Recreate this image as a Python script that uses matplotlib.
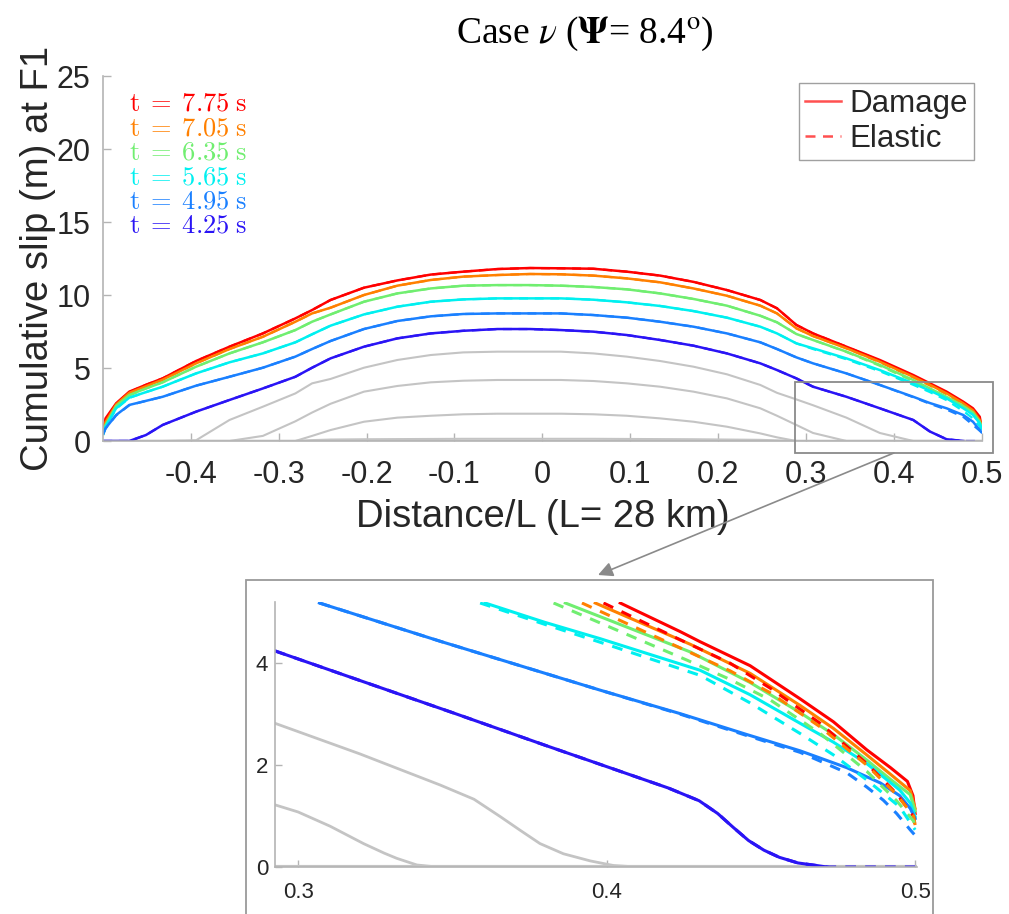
import matplotlib
matplotlib.use("Agg")
import matplotlib.pyplot as plt
from matplotlib.lines import Line2D
from matplotlib.patches import Rectangle
import numpy as np

plt.rcParams['font.family'] = ['Liberation Sans', 'DejaVu Sans']

# ---- main panel: distance along the fault (x/L) ----
x_main = [-0.4995, -0.497, -0.485, -0.47, -0.451, -0.432, -0.394, -0.356, -0.318,
          -0.281, -0.262, -0.241, -0.203, -0.165, -0.127, -0.09, -0.051, -0.014,
          0.021, 0.058, 0.096, 0.134, 0.172, 0.21, 0.248, 0.267, 0.289, 0.308,
          0.346, 0.384, 0.422, 0.441, 0.46, 0.479, 0.49, 0.4977, 0.4997]

times = ['7.75', '7.05', '6.35', '5.65', '4.95', '4.25']
colors = ['#ff0000', '#ff8000', '#70ee70', '#00f0f0', '#1a80ff', '#2a14f5']

# damage (solid) slip profiles
d775 = [0.8, 1.55, 2.58, 3.38, 3.85, 4.29, 5.48, 6.46, 7.37, 8.4, 8.97, 9.66, 10.5,
        11.0, 11.4, 11.6, 11.78, 11.85, 11.83, 11.8, 11.6, 11.33, 10.9, 10.34, 9.66,
        9.09, 7.95, 7.37, 6.46, 5.55, 4.52, 3.95, 3.38, 2.69, 2.24, 1.66, 0.98]
d705 = [0.6, 1.3, 2.5, 3.3, 3.75, 4.2, 5.32, 6.3, 7.14, 8.17, 8.74, 9.13, 10.0,
        10.64, 11.03, 11.26, 11.37, 11.44, 11.42, 11.33, 11.14, 10.87, 10.45, 9.95,
        9.27, 8.74, 7.72, 7.19, 6.35, 5.43, 4.4, 3.85, 3.26, 2.58, 2.1, 1.44, 1.1]
d635 = [0.5, 1.1, 2.4, 3.15, 3.6, 4.02, 5.09, 6.0, 6.76, 7.6, 8.17, 8.67, 9.54,
        10.11, 10.45, 10.64, 10.68, 10.68, 10.64, 10.55, 10.39, 10.11, 9.73, 9.27,
        8.58, 8.13, 7.33, 6.92, 6.12, 5.21, 4.18, 3.6, 3.03, 2.4, 1.95, 1.32, 1.0]
d565 = [0.5, 1.0, 2.24, 2.97, 3.35, 3.72, 4.63, 5.39, 6.0, 6.76, 7.31, 7.9, 8.67,
        9.2, 9.54, 9.7, 9.77, 9.77, 9.77, 9.68, 9.5, 9.25, 8.9, 8.45, 7.83, 7.37,
        6.69, 6.35, 5.66, 4.86, 3.95, 3.45, 2.92, 2.24, 1.8, 1.21, 0.9]
d495 = [0.5, 0.87, 1.78, 2.47, 2.75, 3.03, 3.79, 4.4, 5.02, 5.78, 6.3, 6.85, 7.67,
        8.22, 8.54, 8.7, 8.74, 8.74, 8.74, 8.63, 8.45, 8.17, 7.83, 7.37, 6.76, 6.3,
        5.73, 5.32, 4.63, 3.84, 3.03, 2.6, 2.24, 1.78, 1.32, 0.75, 0.6]
d425 = [0.0, 0.0, 0.0, 0.0, 0.41, 1.1, 2.01, 2.81, 3.6, 4.4, 5.02, 5.66, 6.46,
        7.03, 7.37, 7.55, 7.67, 7.67, 7.6, 7.49, 7.26, 6.92, 6.53, 6.0, 5.32, 4.86,
        4.29, 3.72, 3.03, 2.24, 1.44, 0.65, 0.12, 0.0, np.nan, np.nan, np.nan]

# elastic (dashed) slip profiles
e775 = [0.8, 1.4, 2.55, 3.35, 3.85, 4.29, 5.48, 6.46, 7.37, 8.4, 8.97, 9.66, 10.5,
        11.0, 11.4, 11.6, 11.78, 11.85, 11.83, 11.8, 11.6, 11.33, 10.9, 10.34, 9.66,
        9.09, 7.95, 7.37, 6.46, 5.5, 4.45, 3.9, 3.3, 2.55, 2.0, 1.3, 0.8]
e705 = [0.6, 1.25, 2.45, 3.28, 3.75, 4.2, 5.32, 6.3, 7.14, 8.17, 8.74, 9.13, 10.0,
        10.64, 11.03, 11.26, 11.37, 11.44, 11.42, 11.33, 11.14, 10.87, 10.45, 9.95,
        9.27, 8.74, 7.72, 7.19, 6.35, 5.4, 4.35, 3.8, 3.2, 2.5, 1.95, 1.3, 0.85]
e635 = [0.5, 1.05, 2.35, 3.12, 3.6, 4.02, 5.09, 6.0, 6.76, 7.6, 8.17, 8.67, 9.54,
        10.11, 10.45, 10.64, 10.68, 10.68, 10.64, 10.55, 10.39, 10.11, 9.73, 9.27,
        8.58, 8.13, 7.33, 6.92, 6.1, 5.15, 4.1, 3.55, 2.95, 2.3, 1.8, 1.2, 0.8]
e565 = [0.5, 0.95, 2.2, 2.95, 3.35, 3.72, 4.63, 5.39, 6.0, 6.76, 7.31, 7.9, 8.67,
        9.2, 9.54, 9.7, 9.77, 9.77, 9.77, 9.68, 9.5, 9.25, 8.9, 8.45, 7.83, 7.37,
        6.69, 6.3, 5.6, 4.78, 3.85, 3.35, 2.8, 2.05, 1.55, 1.0, 0.7]
e495 = [0.5, 0.85, 1.75, 2.45, 2.75, 3.03, 3.79, 4.4, 5.02, 5.78, 6.3, 6.85, 7.67,
        8.22, 8.54, 8.7, 8.74, 8.74, 8.74, 8.63, 8.45, 8.17, 7.83, 7.37, 6.76, 6.3,
        5.73, 5.32, 4.63, 3.84, 3.0, 2.55, 2.15, 1.65, 1.1, 0.7, 0.6]
e425 = [0.0, 0.0, 0.0, 0.0, 0.41, 1.1, 2.01, 2.81, 3.6, 4.4, 5.02, 5.66, 6.46,
        7.03, 7.37, 7.55, 7.67, 7.67, 7.6, 7.49, 7.26, 6.92, 6.53, 6.0, 5.32, 4.86,
        4.29, 3.72, 3.03, 2.24, 1.44, 0.65, 0.12, 0.0, 0.0, 0.0, 0.0]

# earlier times (grey)
g1 = [0, 0, 0, 0, 0, 0, 0.05, 1.44, 2.35, 3.26, 3.95, 4.25, 5.02, 5.55, 5.89, 6.07,
      6.12, 6.12, 6.12, 6.0, 5.78, 5.48, 5.09, 4.57, 3.84, 3.3, 2.85, 2.45, 1.6,
      0.55, 0, 0, 0, 0, 0, 0, 0]
g2 = [0, 0, 0, 0, 0, 0, 0, 0, 0.35, 1.35, 1.95, 2.55, 3.38, 3.77, 4.02, 4.13, 4.18,
      4.18, 4.18, 4.11, 3.95, 3.72, 3.38, 2.92, 2.24, 1.73, 1.1, 0.55, 0, 0, 0, 0,
      0, 0, 0, 0, 0]
g3 = [0, 0, 0, 0, 0, 0, 0, 0, 0, 0, 0.35, 0.75, 1.32, 1.6, 1.73, 1.83, 1.87, 1.87,
      1.87, 1.83, 1.73, 1.55, 1.32, 0.98, 0.52, 0.25, 0, 0, 0, 0, 0, 0, 0, 0, 0, 0, 0]
g4 = [0, 0, 0, 0, 0, 0, 0, 0, 0, 0, 0.06, 0.1, 0.12, 0.13, 0.14, 0.15, 0.15, 0.15,
      0.15, 0.15, 0.14, 0.13, 0.12, 0.1, 0.08, 0.04, 0, 0, 0, 0, 0, 0, 0, 0, 0, 0, 0]
g0_x = [-0.5, 0.5]
g0 = [0.0, 0.0]

# ---- zoomed panel (x, slip) pairs ----
z_d775 = [(0.4044, 5.18), (0.4238, 4.62), (0.4303, 4.42), (0.4465, 3.95), (0.4627, 3.3),
          (0.4735, 2.85), (0.4843, 2.3), (0.492, 1.95), (0.4975, 1.68), (0.4993, 1.4),
          (0.5, 1.05)]
z_d705 = [(0.3963, 5.18), (0.4271, 4.37), (0.4465, 3.8), (0.4627, 3.17), (0.4735, 2.72),
          (0.4843, 2.2), (0.492, 1.82), (0.4984, 1.5), (0.5, 1.15)]
z_d635 = [(0.3866, 5.18), (0.4271, 4.22), (0.4465, 3.62), (0.4627, 3.03), (0.4735, 2.6),
          (0.4843, 2.1), (0.492, 1.72), (0.4984, 1.42), (0.5, 1.1)]
z_d565 = [(0.3606, 5.18), (0.38, 4.8), (0.3979, 4.48), (0.4303, 3.86), (0.4465, 3.38),
          (0.4627, 2.82), (0.4735, 2.45), (0.4843, 2.03), (0.495, 1.51), (0.4985, 1.25),
          (0.5, 0.99)]
z_d495 = [(0.3069, 5.18), (0.346, 4.43), (0.3979, 3.47), (0.4238, 3.01), (0.4454, 2.6),
          (0.4627, 2.28), (0.4778, 1.95), (0.4887, 1.65), (0.495, 1.4), (0.4984, 1.15),
          (0.5, 0.95)]
z_d425 = [(0.2925, 4.24), (0.32, 3.66), (0.35, 3.03), (0.38, 2.39), (0.40, 1.97),
          (0.42, 1.55), (0.43, 1.3), (0.436, 1.05), (0.441, 0.78), (0.446, 0.52),
          (0.451, 0.33), (0.456, 0.19), (0.462, 0.08), (0.468, 0.03), (0.4714, 0.0)]

z_e775 = [(0.399, 5.18), (0.4238, 4.46), (0.44, 4.0), (0.453, 3.51), (0.4692, 2.82),
          (0.4843, 2.03), (0.494, 1.44), (0.4995, 0.99), (0.5, 0.8)]
z_e705 = [(0.392, 5.18), (0.4227, 4.33), (0.44, 3.85), (0.453, 3.42), (0.4692, 2.75),
          (0.4843, 2.0), (0.494, 1.42), (0.4995, 1.0), (0.5, 0.82)]
z_e635 = [(0.3828, 5.18), (0.426, 4.06), (0.44, 3.68), (0.453, 3.28), (0.4692, 2.62),
          (0.4843, 1.88), (0.494, 1.3), (0.4995, 0.9), (0.5, 0.75)]
z_e565 = [(0.359, 5.18), (0.38, 4.76), (0.3979, 4.41), (0.4303, 3.76), (0.4465, 3.22),
          (0.4627, 2.62), (0.4735, 2.2), (0.4843, 1.71), (0.495, 1.18), (0.5, 0.73)]
z_e495 = [(0.3069, 5.18), (0.346, 4.43), (0.3979, 3.47), (0.4238, 3.0), (0.4454, 2.58),
          (0.4627, 2.25), (0.4778, 1.85), (0.4843, 1.57), (0.4897, 1.31), (0.494, 1.05),
          (0.4984, 0.73), (0.5, 0.62)]
z_e425 = [(0.2925, 4.24), (0.32, 3.66), (0.35, 3.03), (0.38, 2.39), (0.40, 1.97),
          (0.42, 1.55), (0.43, 1.3), (0.436, 1.05), (0.441, 0.78), (0.446, 0.52),
          (0.451, 0.33), (0.456, 0.19), (0.462, 0.08), (0.468, 0.03), (0.4714, 0.0),
          (0.5, 0.0)]

z_g1 = [(0.2925, 2.82), (0.32, 2.22), (0.346, 1.61), (0.357, 1.33), (0.3655, 0.99),
        (0.372, 0.72), (0.3784, 0.46), (0.386, 0.26), (0.3947, 0.12), (0.4022, 0.03),
        (0.41, 0.0)]
z_g2 = [(0.2925, 1.22), (0.3, 1.08), (0.3104, 0.8), (0.3212, 0.46), (0.328, 0.27),
        (0.332, 0.17), (0.3385, 0.04), (0.345, 0.0)]
z_g0 = [(0.2925, 0.0), (0.5, 0.0)]

damage = [d775, d705, d635, d565, d495, d425]
elastic = [e775, e705, e635, e565, e495, e425]
z_damage = [z_d775, z_d705, z_d635, z_d565, z_d495, z_d425]
z_elastic = [z_e775, z_e705, z_e635, z_e565, z_e495, z_e425]

grey = '#c4c4c4'
axcol = '#b4b4b4'
txtcol = '#262626'

fig = plt.figure(figsize=(10.09, 9.14), dpi=100)
ax = fig.add_axes([0.102, 0.5175, 0.871, 0.3993])

# grey early-time curves
for g in [g1, g2, g3, g4]:
    ax.plot(x_main, g, color=grey, lw=1.5)
ax.plot(g0_x, g0, color=grey, lw=2.5)

for ys, c in zip(elastic, colors):
    ax.plot(x_main, ys, color=c, lw=1.6, ls=(0, (4, 3)))
for ys, c in zip(damage, colors):
    ax.plot(x_main, ys, color=c, lw=1.8)

ax.set_xlim(-0.5, 0.5)
ax.set_ylim(0, 25)
ax.set_xticks([-0.4, -0.3, -0.2, -0.1, 0, 0.1, 0.2, 0.3, 0.4, 0.5])
ax.set_xticklabels(['-0.4', '-0.3', '-0.2', '-0.1', '0', '0.1', '0.2', '0.3', '0.4', '0.5'])
ax.set_yticks([0, 5, 10, 15, 20, 25])
for s in ['top', 'right']:
    ax.spines[s].set_visible(False)
for s in ['left', 'bottom']:
    ax.spines[s].set_color(axcol)
    ax.spines[s].set_linewidth(1.2)
ax.tick_params(direction='in', length=6, width=1, colors=axcol, labelcolor=txtcol,
               labelsize=22)
ax.tick_params(axis='x', pad=14)
ax.tick_params(axis='y', pad=9)
ax.set_xlabel('Distance/L (L= 28 km)', fontsize=27.5, color=txtcol, labelpad=6)
ax.set_ylabel('Cumulative slip (m) at F1', fontsize=27.5, color=txtcol, labelpad=0)

# time labels
base_y = [0.905, 0.838, 0.771, 0.704, 0.637, 0.570]
for t, c, yy in zip(times, colors, base_y):
    ax.text(0.03, yy, r'$\mathrm{t}\;=\;%s\;\mathrm{s}$' % t, transform=ax.transAxes,
            color=c, fontsize=19, math_fontfamily='cm', ha='left', va='baseline')

# legend
handles = [Line2D([], [], color='#ff5050', lw=1.8),
           Line2D([], [], color='#ff5050', lw=1.8, ls=(0, (4, 3)))]
leg = ax.legend(handles, ['Damage', 'Elastic'], loc='upper right',
                bbox_to_anchor=(0.991, 0.982), borderaxespad=0, fontsize=22.5,
                handlelength=1.15, handletextpad=0.25, labelspacing=0.15,
                borderpad=0.2, fancybox=False, framealpha=1)
leg.get_frame().set_edgecolor('#a0a0a0')
leg.get_frame().set_linewidth(1.0)
for txt in leg.get_texts():
    txt.set_color(txtcol)

# zoom box on main panel and pointer to inset
ax.add_patch(Rectangle((0.2875, -0.82), 0.225, 4.86, fill=False, edgecolor='#8a8a8a',
                       lw=1.3, clip_on=False, zorder=5))
ax.annotate('', xy=(0.5927, 0.3709), xycoords='figure fraction', xytext=(0.4, -0.82),
            textcoords='data', annotation_clip=False,
            arrowprops=dict(arrowstyle='-|>', color='#8a8a8a', lw=1.2,
                            mutation_scale=22, shrinkA=0, shrinkB=0))

# title
fig.text(0.58, 0.963, r'Case $\nu$ ($\mathbf{\Psi}$= 8.4$^{\mathrm{o}}$)',
         fontsize=27, family='Liberation Serif', math_fontfamily='stix',
         ha='center', va='center', color='black')

# outer frame of the inset
fig.add_artist(Rectangle((0.2438, -0.05), 0.6809, 0.4154, transform=fig.transFigure,
                         fill=False, edgecolor='#9a9a9a', lw=1.3))

# ---- inset ----
axz = fig.add_axes([0.2725, 0.0514, 0.636, 0.290])
for zz in [z_g1, z_g2]:
    xx, yy = zip(*zz)
    axz.plot(xx, yy, color=grey, lw=2)
xx, yy = zip(*z_g0)
axz.plot(xx, yy, color=grey, lw=3)
for zz, c in zip(z_damage, colors):
    xx, yy = zip(*zz)
    axz.plot(xx, yy, color=c, lw=2.2)
for zz, c in zip(z_elastic, colors):
    xx, yy = zip(*zz)
    axz.plot(xx, yy, color=c, lw=2.2, ls=(0, (3.5, 3)))

axz.set_xlim(0.2925, 0.5005)
axz.set_ylim(0, 5.2)
axz.set_xticks([0.3, 0.4, 0.5])
axz.set_xticklabels(['0.3', '0.4', '0.5'])
axz.set_yticks([0, 2, 4])
for s in ['top', 'right']:
    axz.spines[s].set_visible(False)
for s in ['left', 'bottom']:
    axz.spines[s].set_color(axcol)
    axz.spines[s].set_linewidth(1.2)
axz.tick_params(direction='in', length=5, width=1, colors=axcol, labelcolor=txtcol,
                labelsize=16)
axz.tick_params(axis='x', pad=11)
axz.tick_params(axis='y', pad=5)

fig.savefig('out.png', dpi=100)
